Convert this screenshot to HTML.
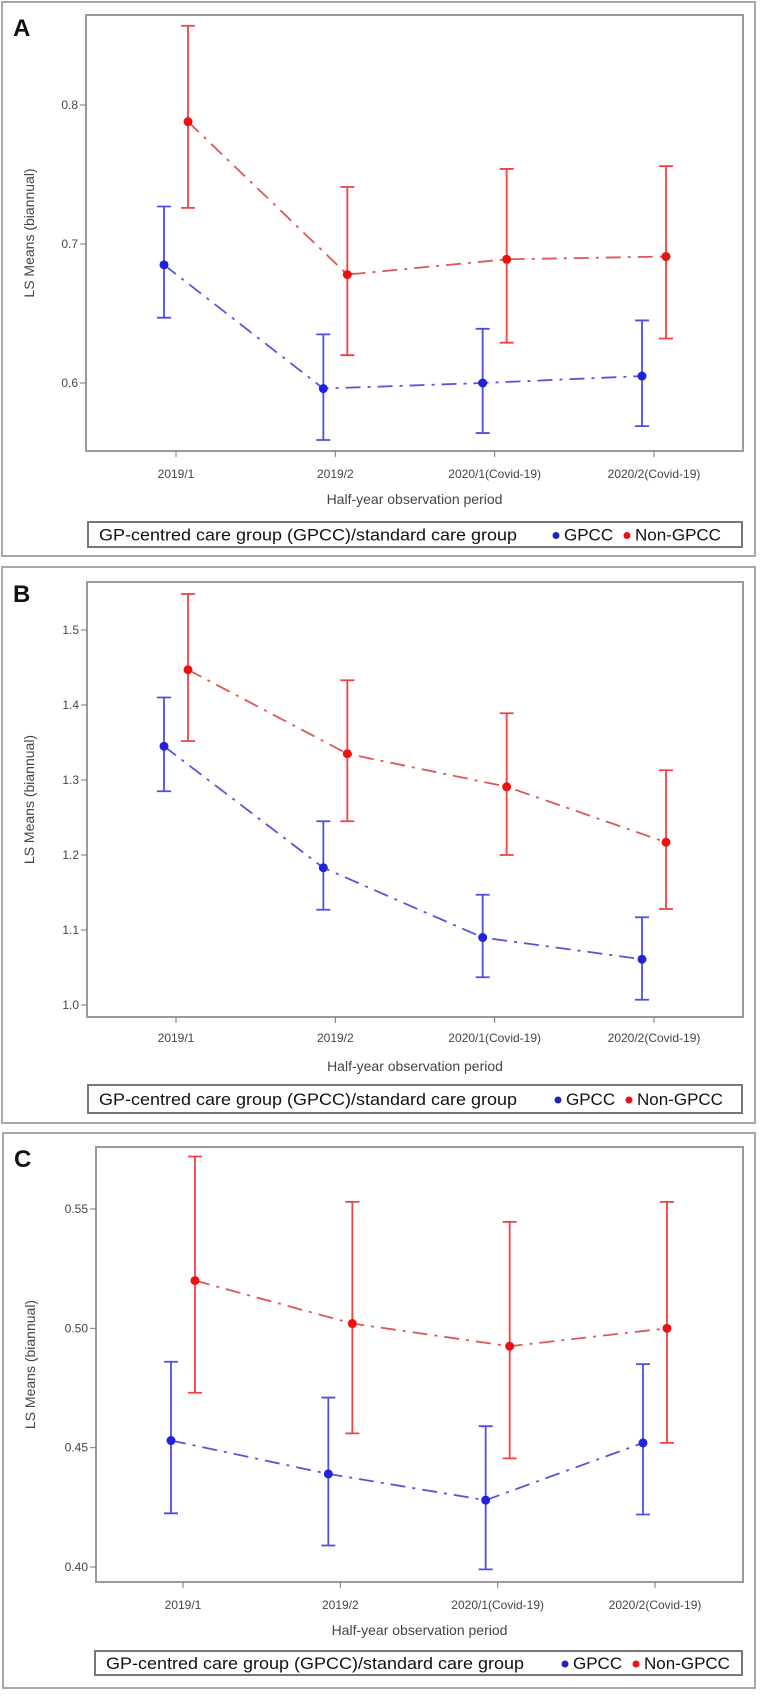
<!DOCTYPE html>
<html><head><meta charset="utf-8">
<style>
html,body{margin:0;padding:0;background:#fff;}
body{width:761px;height:1693px;overflow:hidden;font-family:"Liberation Sans",sans-serif;}
svg text{font-family:"Liberation Sans",sans-serif;}
</style></head>
<body>
<svg id="chart" width="761" height="1693" viewBox="0 0 761 1693" xmlns="http://www.w3.org/2000/svg"></svg>
<script>
const categories = ["2019/1","2019/2","2020/1(Covid-19)","2020/2(Covid-19)"];
const seriesNames = ["GPCC","Non-GPCC"];
// Panel A
const aBlue = [0.685,0.596,0.600,0.605];
const aBlueLo = [0.647,0.559,0.564,0.569];
const aBlueHi = [0.727,0.635,0.639,0.645];
const aRed = [0.788,0.678,0.689,0.691];
const aRedLo = [0.726,0.620,0.629,0.632];
const aRedHi = [0.857,0.741,0.754,0.756];
const aTicks = ["0.6","0.7","0.8"];
// Panel B
const bBlue = [1.345,1.183,1.090,1.061];
const bBlueLo = [1.285,1.127,1.037,1.007];
const bBlueHi = [1.410,1.245,1.147,1.117];
const bRed = [1.447,1.335,1.291,1.217];
const bRedLo = [1.352,1.245,1.200,1.128];
const bRedHi = [1.548,1.433,1.389,1.313];
const bTicks = ["1.0","1.1","1.2","1.3","1.4","1.5"];
// Panel C
const cBlue = [0.453,0.439,0.428,0.452];
const cBlueLo = [0.4225,0.409,0.399,0.422];
const cBlueHi = [0.486,0.471,0.459,0.485];
const cRed = [0.520,0.502,0.4925,0.500];
const cRedLo = [0.473,0.456,0.4455,0.452];
const cRedHi = [0.572,0.553,0.5446,0.553];
const cTicks = ["0.40","0.45","0.50","0.55"];

const NS="http://www.w3.org/2000/svg";
const svg=document.getElementById('chart');
function mk(tag,attrs,parent){const e=document.createElementNS(NS,tag);for(const k in attrs)e.setAttribute(k,attrs[k]);(parent||svg).appendChild(e);return e;}

const panels=[
 {letter:"A",name:"panel-a",outer:[2,2,755,556],plot:[86,15,743,451],v0:0.6,p0:383,v1:0.8,p1:105,ticks:aTicks,
  blue:[aBlue,aBlueLo,aBlueHi],red:[aRed,aRedLo,aRedHi],xt:[176,654],lab:478,title:504,leg:[88,522,742,547],dots:[556,627],ly:27},
 {letter:"B",name:"panel-b",outer:[2,567,755,1123],plot:[87,582,743,1017],v0:1.0,p0:1005,v1:1.5,p1:630,ticks:bTicks,
  blue:[bBlue,bBlueLo,bBlueHi],red:[bRed,bRedLo,bRedHi],xt:[176,654],lab:1042,title:1071,leg:[88,1085,742,1113],dots:[558,629],ly:593},
 {letter:"C",name:"panel-c",outer:[3,1133,755,1688],plot:[96,1147,743,1582],v0:0.40,p0:1567,v1:0.55,p1:1209,ticks:cTicks,
  blue:[cBlue,cBlueLo,cBlueHi],red:[cRed,cRedLo,cRedHi],xt:[183,655],lab:1609,title:1635,leg:[95,1651,742,1675],dots:[565,636],ly:1158}
];

panels.forEach(p=>{
 const g=mk('g',{});
 
 
 const ob=mk('rect',{x:p.outer[0],y:p.outer[1],width:p.outer[2]-p.outer[0],height:p.outer[3]-p.outer[1],fill:'#fff',stroke:'#a8a8a8','stroke-width':2},g);
 
 
 const lt=mk('text',{x:p.outer[0]+11,y:p.ly+9,'font-size':24,'font-weight':'bold',fill:'#111'},g);
 lt.textContent=p.letter;
 
 
 const [L,T,R,B]=p.plot;
 const pf=mk('rect',{x:L,y:T,width:R-L,height:B-T,fill:'none',stroke:'#9a9a9a','stroke-width':2},g);
 
 
 const ys=v=>p.p0+(v-p.v0)*(p.p1-p.p0)/(p.v1-p.v0);
 const step=(p.xt[1]-p.xt[0])/(categories.length-1);
 const xs=i=>p.xt[0]+i*step;
 p.ticks.forEach(t=>{
  const y=ys(parseFloat(t));
  const tl=mk('line',{x1:L-6,x2:L,y1:y,y2:y,stroke:'#777','stroke-width':1},g);
  
  
  const tx=mk('text',{x:L-8,y:y+4,'font-size':12,'text-anchor':'end',fill:'#444'},g);
  tx.textContent=t;
  
  
 });
 categories.forEach((c,i)=>{
  const x=xs(i);
  const tl=mk('line',{x1:x,x2:x,y1:B,y2:B+6,stroke:'#777','stroke-width':1},g);
  
  
  const tx=mk('text',{x:x,y:p.lab,'font-size':12,'text-anchor':'middle',fill:'#444'},g);
  tx.textContent=c;
  
  
 });
 const xt=mk('text',{x:(L+R)/2,y:p.title,'font-size':14,'text-anchor':'middle',fill:'#444'},g);
 xt.textContent="Half-year observation period";
 
 
 const cy=(T+B)/2;
 const yt=mk('text',{x:0,y:0,'font-size':14,'text-anchor':'middle',fill:'#444',transform:`translate(${p.outer[0]+32},${cy}) rotate(-90)`},g);
 yt.textContent="LS Means (biannual)";
 
 
 [[p.blue,'#2222dd','#5555dd',-12,'gpcc'],[p.red,'#ee1111','#e05555',12,'non-gpcc']].forEach(([d,col,lc,off,nm])=>{
  const [m,lo,hi]=d;
  const pts=m.map((v,i)=>`${xs(i)+off},${ys(v)}`).join(' ');
  const pl=mk('polyline',{points:pts,fill:'none',stroke:lc,'stroke-width':1.8,'stroke-dasharray':'15,7,3,7'},g);
  
  
  m.forEach((v,i)=>{
   const x=xs(i)+off;
   const eb=mk('path',{d:`M${x},${ys(lo[i])}V${ys(hi[i])}M${x-7},${ys(lo[i])}H${x+7}M${x-7},${ys(hi[i])}H${x+7}`,stroke:col,'stroke-width':1.8,fill:'none','stroke-opacity':0.8},g);
   
   
   const ci=mk('circle',{cx:x,cy:ys(v),r:4.5,fill:col},g);
   
   
  });
 });
 const [lx1,ly1,lx2,ly2]=p.leg;
 const lb=mk('rect',{x:lx1,y:ly1,width:lx2-lx1,height:ly2-ly1,fill:'#fff',stroke:'#777','stroke-width':2},g);
 
 
 const lty=(ly1+ly2)/2+6;
 const lg=mk('text',{x:lx1+11,y:lty,'font-size':17,fill:'#111',textLength:418,lengthAdjust:'spacingAndGlyphs'},g);
 lg.textContent="GP-centred care group (GPCC)/standard care group";
 
 
 [['#2222bb',seriesNames[0]],['#ee1111',seriesNames[1]]].forEach(([col,label],k)=>{
  const dx=p.dots[k];
  const dc=mk('circle',{cx:dx,cy:(ly1+ly2)/2+1,r:3.5,fill:col},g);
  
  
  const tx=mk('text',{x:dx+8,y:lty,'font-size':17,fill:'#111'},g);
  tx.textContent=label;
  
  
 });
});
</script>
</body></html>
